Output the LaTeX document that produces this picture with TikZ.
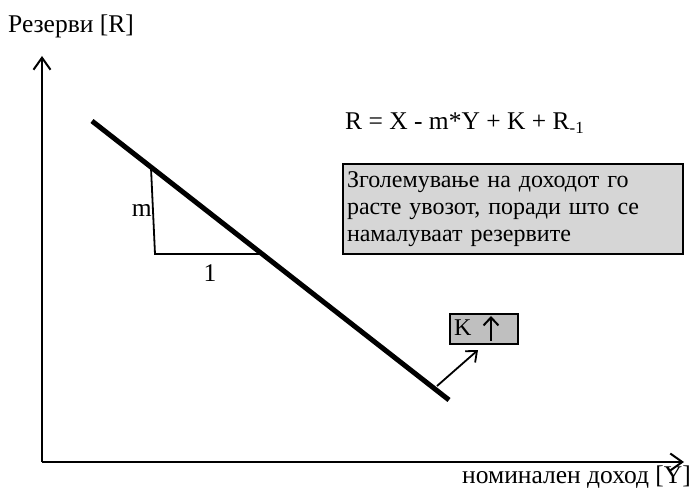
\documentclass[tikz,border=0pt]{standalone}
\usepackage{fontspec}
\setmainfont{Liberation Serif}
\usetikzlibrary{arrows.meta}
\begin{document}
\begin{tikzpicture}[x=1pt,y=-1pt,
  axis/.style={line width=2pt,-{Straight Barb[length=12pt,width=17pt,line width=2pt]}},
  lbl/.style={font=\fontsize{25.5}{27}\selectfont,inner sep=0pt},
  thin/.style={line width=1.8pt}]
\useasboundingbox (0,0) rectangle (694,489);
\coordinate (O) at (42,462);
\coordinate (Ytop) at (42,56);
\coordinate (Xend) at (684,462);
\draw[axis] (O) -- (Ytop);
\draw[axis] (O) -- (Xend);
\node[lbl,anchor=west] (rl) at (8,26) {Резерви [R]};
\node[lbl,anchor=east] (yl) at (691,477) {номинален доход [Y]};
% main line
\coordinate (L1) at (92,121);
\coordinate (L2) at (449,400);
\draw[line width=5pt] (L1) -- (L2);
% triangle
\coordinate (T1) at (151,168);
\coordinate (T2) at (155,254);
\coordinate (T3) at (259,254);
\draw[thin] (T1) -- (T2) -- (T3);
\node[lbl,anchor=east] (m) at (152,210) {m};
\node[lbl] (one) at (210,273) {1};
% formula
\node[lbl,anchor=west] (f) at (345,123) {R = X - m*Y + K + R\raisebox{-0.35ex}{\fontsize{17}{17}\selectfont -1}};
% box
\node[draw,line width=2pt,fill=black!16,anchor=north west,minimum width=340pt,minimum height=90pt,text width=332pt,align=left,inner sep=4pt,inner ysep=4pt,font=\fontsize{24}{27}\selectfont] (box) at (342,163) {Зголемување на доходот го\\расте увозот, поради што се\\намалуваат резервите};
% K box
\node[draw,line width=2pt,fill=black!25,anchor=north west,minimum width=68pt,minimum height=30pt,inner sep=0pt] (kb) at (449,313) {};
\node[lbl,anchor=west,font=\fontsize{24}{24}\selectfont] (k) at (454,328) {K};
\coordinate (ka) at (491,341);
\coordinate (kb2) at (491,316);
\draw[line width=2pt,-{Straight Barb[length=8pt,width=15pt,line width=2pt]}] (ka) -- (kb2);
\coordinate (a1) at (437,386);
\coordinate (a2) at (478,350);
\draw[line width=1.8pt,-{Straight Barb[length=9pt,width=15pt,line width=1.8pt]}] (a1) -- (a2);
\end{tikzpicture}
\end{document}
